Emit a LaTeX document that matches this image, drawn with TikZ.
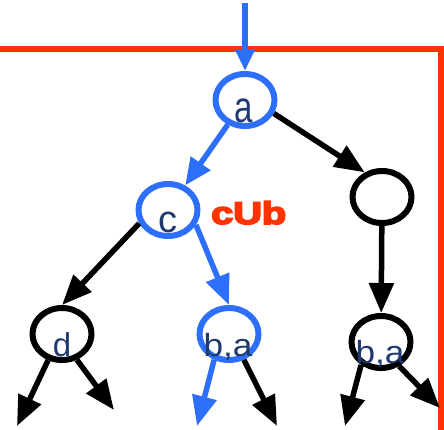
\documentclass[tikz,border=0pt]{standalone}
\usepackage{fontspec}
\setmainfont{Liberation Sans}
\newfontfamily\cubfont[UprightFont={* Bold},FakeBold=5]{Liberation Sans}
\usepackage{graphicx}
\usetikzlibrary{shapes.geometric,arrows.meta}
\definecolor{treeblue}{RGB}{45,110,250}
\definecolor{cutred}{RGB}{255,51,0}
\definecolor{ink}{RGB}{31,58,110}
\tikzset{
  knot/.style={ellipse,draw,line width=6pt,minimum width=59pt,minimum height=52pt,inner sep=0pt},
  lab/.style={text=ink,inner sep=0pt,anchor=base},
  branch/.style={line width=5.5pt,->,>={Triangle[length=30pt,width=24pt]}},
}
\begin{document}
\begin{tikzpicture}[x=1pt,y=-1pt]
	\useasboundingbox (0,0) rectangle (444,429);
	\draw[cutred,line width=5.5pt] (0,49) -- (441,49) -- (441,435); % the cut
	% tree nodes
	\node[knot,treeblue] (a) at (245,100) {};
	\node[knot,treeblue] (c) at (168,210) {};
	\node[knot] (r) at (382,197) {};
	\node[knot] (d) at (62,334) {};
	\node[knot,treeblue] (ba) at (229,334) {};
	\node[knot] (bb) at (381,342) {};
	% labels sit low in the ellipses
	\node[lab,font=\fontsize{44}{44}\selectfont] (la) at (244,122) {\scalebox{0.75}[1]{a}};
	\node[lab,font=\fontsize{38}{38}\selectfont] (lc) at (168,232) {c};
	\node[lab,font=\fontsize{33}{33}\selectfont] (ld) at (62,356) {d};
	\node[lab,font=\fontsize{32}{32}\selectfont] (lba) at (228,356) {\scalebox{1.1}[1]{b,a}};
	\node[lab,font=\fontsize{32}{32}\selectfont] (lbb) at (380,363) {\scalebox{1.1}[1]{b,a}};
	\node[inner sep=0pt,anchor=base west,text=cutred,font=\fontsize{31.5}{32}\cubfont] (cub) at (211,224) {\scalebox{1.26}[1]{cUb}};
	% edges
	\coordinate (in) at (245,3);
	\draw[branch,treeblue,>={Triangle[length=21pt,width=18pt]}] (in) -- (a);
	\draw[branch,treeblue,>={Triangle[length=27pt,width=23pt]}] (a) -- (c);
	\draw[branch] (a.-25) -- (r.125);
	\draw[branch] (c.205) -- (d.north);
	\draw[branch,treeblue] (c.-28) -- (ba.north);
	\draw[branch] (r) -- (bb);
	% loose ends at the bottom
	\coordinate (d1) at (17,426);
	\coordinate (d2) at (114,410);
	\coordinate (ba1) at (197,426);
	\coordinate (ba2) at (277,426);
	\coordinate (bb1) at (345,426);
	\coordinate (bb2) at (440,408);
	\draw[branch] (d.242) -- (d1);
	\draw[branch] (d.300) -- (d2);
	\draw[branch,treeblue] (ba.240) -- (ba1);
	\draw[branch] (ba.300) -- (ba2);
	\draw[branch] (bb.229) -- (bb1);
	\draw[branch] (bb.307) -- (bb2);
\end{tikzpicture}
\end{document}
